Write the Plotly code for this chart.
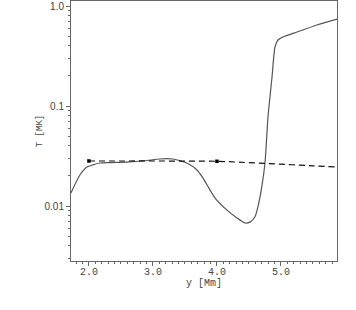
import plotly.graph_objects as go

# Solid curve: temperature profile
y_solid = [1.719, 1.859, 1.969, 2.063, 2.172, 2.33, 2.594, 2.844, 3.109, 3.219, 3.3125,
           3.53, 3.6875, 3.78, 3.89, 3.97, 4.156, 4.3125, 4.4375, 4.516, 4.594, 4.64,
           4.70, 4.75, 4.797, 4.86, 4.906, 4.953, 5.03, 5.25, 5.5625, 5.875]
T_solid = [0.0135, 0.0204, 0.0245, 0.0258, 0.0269, 0.0272, 0.0275, 0.0282, 0.0295, 0.0297, 0.0295,
           0.0269, 0.0229, 0.0191, 0.0145, 0.0120, 0.0091, 0.0076, 0.00676, 0.0069, 0.0078, 0.0098,
           0.0155, 0.0269, 0.0776, 0.195, 0.389, 0.457, 0.49, 0.55, 0.646, 0.741]

# Dashed reference curve
y_dash = [2.0, 2.5, 3.0, 3.5, 4.0, 4.5, 5.0, 5.5, 5.875]
T_dash = [0.0282, 0.0282, 0.0282, 0.0281, 0.0280, 0.0271, 0.0262, 0.0252, 0.0245]

# Marked points
y_mark = [2.0, 4.0]
T_mark = [0.0282, 0.0280]

x_ticks = [2.0, 3.0, 4.0, 5.0]
x_ticktext = ["2.0", "3.0", "4.0", "5.0"]
y_ticks = [0.01, 0.1, 1.0]
y_ticktext = ["0.01", "0.1", "1.0"]

fig = go.Figure()
fig.add_trace(go.Scatter(x=y_solid, y=T_solid, mode="lines", line=dict(color="#555555", width=1.2, shape="spline", smoothing=0.6)))
fig.add_trace(go.Scatter(x=y_dash, y=T_dash, mode="lines", line=dict(color="#111111", width=1.2, dash="6px,4px", shape="spline")))
fig.add_trace(go.Scatter(x=y_mark, y=T_mark, mode="markers", marker=dict(color="#000000", size=3.5, symbol="square")))

axis_color = "#666666"
fig.update_layout(
    width=356, height=310,
    margin=dict(l=71, r=19, t=1, b=49),
    paper_bgcolor="white", plot_bgcolor="white",
    showlegend=False,
    xaxis=dict(
        range=[1.72, 5.875],
        tickvals=x_ticks, ticktext=x_ticktext,
        ticks="outside", ticklen=4, tickcolor=axis_color, tickwidth=1,
        minor=dict(dtick=0.1, ticks="outside", ticklen=2, tickcolor=axis_color),
        showline=True, linecolor=axis_color, linewidth=1, mirror=True,
        showgrid=False, zeroline=False,
        ticklabelstandoff=-3,
        tickfont=dict(family="Liberation Mono", size=10, color="#444444"),
        title=dict(text="y [Mm]", font=dict(family="Liberation Mono", size=10, color="#444444"), standoff=0),
    ),
    yaxis=dict(
        type="log",
        range=[-2.55, 0.05],
        tickvals=y_ticks, ticktext=y_ticktext,
        ticks="outside", ticklen=4, tickcolor=axis_color, tickwidth=1,
        minor=dict(tickvals=[v * m for v in [0.001, 0.01, 0.1, 1.0] for m in range(2, 10)], ticks="outside", ticklen=2, tickcolor=axis_color),
        showline=True, linecolor=axis_color, linewidth=1, mirror=True,
        showgrid=False, zeroline=False,
        tickfont=dict(family="Liberation Sans", size=10, color="#444444"),
        title=dict(text="T [MK]", font=dict(family="Liberation Mono", size=9, color="#444444"), standoff=0),
    ),
)

fig.write_html("out.html", config={"displayModeBar": False},
               post_script="document.body.style.margin='0px';document.body.style.padding='0px';")
